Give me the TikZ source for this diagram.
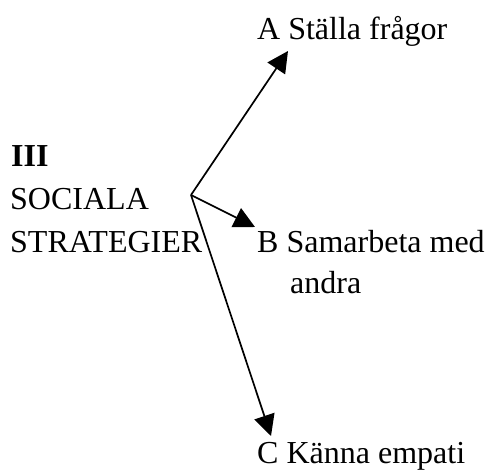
\documentclass[tikz,border=0pt]{standalone}
\usepackage{fontspec}
\setmainfont{Liberation Serif}
\usetikzlibrary{arrows.meta}
\begin{document}
\begin{tikzpicture}[x=1pt,y=-1pt,
  lbl/.style={anchor=base west,inner sep=0pt,font=\fontsize{32}{40}\selectfont},
  arr/.style={line width=1.7pt,-{Triangle[length=21pt,width=21pt]}}]
\useasboundingbox (0,0) rectangle (488,471);
\node[lbl,font=\fontsize{32}{40}\selectfont\bfseries] (t3) at (11,166) {III};
\node[lbl] (t1) at (10,209) {SOCIALA};
\node[lbl] (t2) at (10,252) {STRATEGIER};
\node[lbl] (a) at (257,39) {A Ställa frågor};
\node[lbl] (b) at (257,252) {B Samarbeta med};
\node[lbl] (b2) at (290,293) {andra};
\node[lbl] (c) at (257,463) {C Känna empati};
\coordinate (o) at (191,195);
\coordinate (ta) at (288,51);
\coordinate (tb) at (255,227);
\coordinate (tc) at (271,436);
\draw[arr] (o) -- (ta);
\draw[arr] (o) -- (tb);
\draw[arr] (o) -- (tc);
\end{tikzpicture}
\end{document}
